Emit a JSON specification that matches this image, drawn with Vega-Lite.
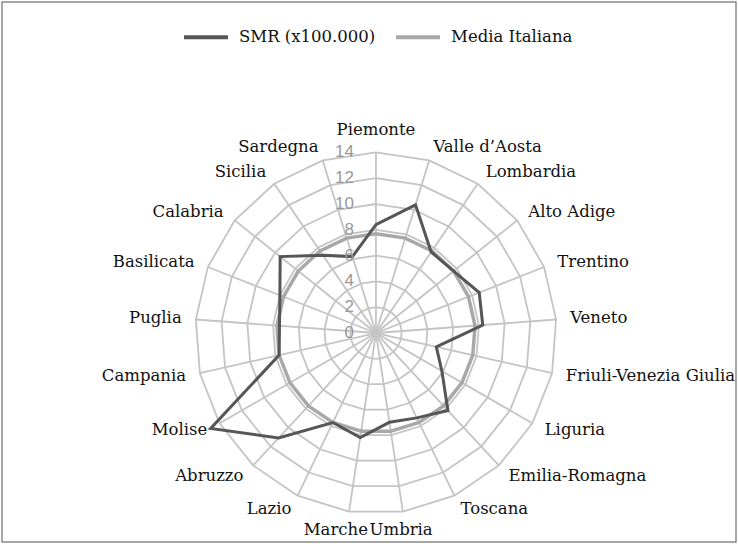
{
  "$schema": "https://vega.github.io/schema/vega-lite/v6.json",
  "width": 734,
  "height": 540,
  "padding": 2,
  "autosize": {"type": "none"},
  "background": "white",
  "config": {"view": {"stroke": "#8a8a8a", "strokeWidth": 1.5}},
  "datasets": {
    "regions": [
      {"region": "Piemonte", "k": 0, "SMR": 8.4, "Media": 7.7},
      {"region": "Valle d’Aosta", "k": 1, "SMR": 10.4, "Media": 7.7},
      {"region": "Lombardia", "k": 2, "SMR": 7.6, "Media": 7.7},
      {"region": "Alto Adige", "k": 3, "SMR": 7.7, "Media": 7.7},
      {"region": "Trentino", "k": 4, "SMR": 8.6, "Media": 7.7},
      {"region": "Veneto", "k": 5, "SMR": 8.3, "Media": 7.7},
      {"region": "Friuli-Venezia Giulia", "k": 6, "SMR": 4.8, "Media": 7.7},
      {"region": "Liguria", "k": 7, "SMR": 5.9, "Media": 7.7},
      {"region": "Emilia-Romagna", "k": 8, "SMR": 8.2, "Media": 7.7},
      {"region": "Toscana", "k": 9, "SMR": 7.3, "Media": 7.7},
      {"region": "Umbria", "k": 10, "SMR": 7.0, "Media": 7.7},
      {"region": "Marche", "k": 11, "SMR": 8.2, "Media": 7.7},
      {"region": "Lazio", "k": 12, "SMR": 7.7, "Media": 7.7},
      {"region": "Abruzzo", "k": 13, "SMR": 11.1, "Media": 7.7},
      {"region": "Molise", "k": 14, "SMR": 14.8, "Media": 7.7},
      {"region": "Campania", "k": 15, "SMR": 7.7, "Media": 7.7},
      {"region": "Puglia", "k": 16, "SMR": 7.5, "Media": 7.7},
      {"region": "Basilicata", "k": 17, "SMR": 8.0, "Media": 7.7},
      {"region": "Calabria", "k": 18, "SMR": 9.5, "Media": 7.7},
      {"region": "Sicilia", "k": 19, "SMR": 7.3, "Media": 7.7},
      {"region": "Sardegna", "k": 20, "SMR": 6.2, "Media": 7.7}
    ],
    "rings": [
      {"ring": 0, "ks": [0,1,2,3,4,5,6,7,8,9,10,11,12,13,14,15,16,17,18,19,20]},
      {"ring": 2, "ks": [0,1,2,3,4,5,6,7,8,9,10,11,12,13,14,15,16,17,18,19,20]},
      {"ring": 4, "ks": [0,1,2,3,4,5,6,7,8,9,10,11,12,13,14,15,16,17,18,19,20]},
      {"ring": 6, "ks": [0,1,2,3,4,5,6,7,8,9,10,11,12,13,14,15,16,17,18,19,20]},
      {"ring": 8, "ks": [0,1,2,3,4,5,6,7,8,9,10,11,12,13,14,15,16,17,18,19,20]},
      {"ring": 10, "ks": [0,1,2,3,4,5,6,7,8,9,10,11,12,13,14,15,16,17,18,19,20]},
      {"ring": 12, "ks": [0,1,2,3,4,5,6,7,8,9,10,11,12,13,14,15,16,17,18,19,20]},
      {"ring": 14, "ks": [0,1,2,3,4,5,6,7,8,9,10,11,12,13,14,15,16,17,18,19,20]}
    ]
  },
  "layer": [
    {
      "data": {"name": "rings"},
      "transform": [
        {"filter": "datum.ring > 0"},
        {"flatten": ["ks"], "as": ["k"]},
        {"calculate": "2*PI*datum.k/21", "as": "a"},
        {"calculate": "datum.ring*sin(datum.a)", "as": "x"},
        {"calculate": "datum.ring*cos(datum.a)", "as": "y"}
      ],
      "mark": {"type": "line", "interpolate": "linear-closed", "color": "#c4c4c4", "strokeWidth": 1.8},
      "encoding": {
        "x": {"field": "x", "type": "quantitative", "scale": {"domain": [-28.99, 27.91], "nice": false, "zero": false}, "axis": null},
        "y": {"field": "y", "type": "quantitative", "scale": {"domain": [-16.2, 25.66], "nice": false, "zero": false}, "axis": null},
        "detail": {"field": "ring", "type": "nominal"},
        "order": {"field": "k", "type": "quantitative"}
      }
    },
    {
      "data": {"name": "regions"},
      "transform": [
        {"calculate": "2*PI*datum.k/21", "as": "a"},
        {"calculate": "14*sin(datum.a)", "as": "sx"},
        {"calculate": "14*cos(datum.a)", "as": "sy"}
      ],
      "mark": {"type": "rule", "color": "#c4c4c4", "strokeWidth": 1.8},
      "encoding": {
        "x": {"field": "sx", "type": "quantitative", "scale": {"domain": [-28.99, 27.91], "nice": false, "zero": false}, "axis": null},
        "y": {"field": "sy", "type": "quantitative", "scale": {"domain": [-16.2, 25.66], "nice": false, "zero": false}, "axis": null},
        "x2": {"datum": 0},
        "y2": {"datum": 0}
      }
    },
    {
      "data": {"name": "regions"},
      "transform": [
        {"calculate": "2*PI*datum.k/21", "as": "a"},
        {"calculate": "datum.Media*sin(datum.a)", "as": "x"},
        {"calculate": "datum.Media*cos(datum.a)", "as": "y"},
        {"calculate": "'Media Italiana'", "as": "series"}
      ],
      "mark": {"type": "line", "interpolate": "linear-closed", "strokeWidth": 3.5},
      "encoding": {
        "x": {"field": "x", "type": "quantitative", "scale": {"domain": [-28.99, 27.91], "nice": false, "zero": false}, "axis": null},
        "y": {"field": "y", "type": "quantitative", "scale": {"domain": [-16.2, 25.66], "nice": false, "zero": false}, "axis": null},
        "order": {"field": "k", "type": "quantitative"},
        "color": {
          "field": "series",
          "type": "nominal",
          "scale": {"domain": ["SMR (x100.000)", "Media Italiana"], "range": ["#565656", "#a8a8a8"]},
          "legend": {"orient": "none", "legendX": 180, "legendY": 11, "direction": "horizontal", "title": null, "symbolType": "stroke", "symbolSize": 1936, "symbolStrokeWidth": 4, "labelFont": "DejaVu Serif", "labelFontSize": 16.5, "labelColor": "#111111", "columnPadding": 12, "labelOffset": 9}
        }
      }
    },
    {
      "data": {"name": "regions"},
      "transform": [
        {"calculate": "2*PI*datum.k/21", "as": "a"},
        {"calculate": "datum.SMR*sin(datum.a)", "as": "x"},
        {"calculate": "datum.SMR*cos(datum.a)", "as": "y"},
        {"calculate": "'SMR (x100.000)'", "as": "series"}
      ],
      "mark": {"type": "line", "interpolate": "linear-closed", "strokeWidth": 3},
      "encoding": {
        "x": {"field": "x", "type": "quantitative", "scale": {"domain": [-28.99, 27.91], "nice": false, "zero": false}, "axis": null},
        "y": {"field": "y", "type": "quantitative", "scale": {"domain": [-16.2, 25.66], "nice": false, "zero": false}, "axis": null},
        "order": {"field": "k", "type": "quantitative"},
        "color": {
          "field": "series",
          "type": "nominal",
          "scale": {"domain": ["SMR (x100.000)", "Media Italiana"], "range": ["#565656", "#a8a8a8"]},
          "legend": {"orient": "none", "legendX": 180, "legendY": 11, "direction": "horizontal", "title": null, "symbolType": "stroke", "symbolSize": 1936, "symbolStrokeWidth": 4, "labelFont": "DejaVu Serif", "labelFontSize": 16.5, "labelColor": "#111111", "columnPadding": 12, "labelOffset": 9}
        }
      }
    },
    {
      "data": {"name": "rings"},
      "mark": {"type": "text", "align": "right", "baseline": "middle", "dx": -22, "font": "Liberation Sans", "fontSize": 17, "color": "#999999"},
      "encoding": {
        "x": {"datum": 0, "type": "quantitative", "scale": {"domain": [-28.99, 27.91], "nice": false, "zero": false}, "axis": null},
        "y": {"field": "ring", "type": "quantitative", "scale": {"domain": [-16.2, 25.66], "nice": false, "zero": false}, "axis": null},
        "text": {"field": "ring", "type": "quantitative"}
      }
    },
    {
      "data": {"name": "regions"},
      "transform": [
        {"calculate": "2*PI*datum.k/21", "as": "a"},
        {"calculate": "sin(datum.a)", "as": "s"},
        {"calculate": "abs(datum.s) < 0.2 ? 15.7 : 15.1", "as": "lr"},
        {"calculate": "datum.lr*datum.s", "as": "lx"},
        {"calculate": "datum.lr*cos(datum.a)", "as": "ly"},
        {"filter": "datum.s > 0.2"}
      ],
      "mark": {"type": "text", "align": "left", "baseline": "middle", "font": "DejaVu Serif", "fontSize": 16.5, "color": "#111111"},
      "encoding": {
        "x": {"field": "lx", "type": "quantitative", "scale": {"domain": [-28.99, 27.91], "nice": false, "zero": false}, "axis": null},
        "y": {"field": "ly", "type": "quantitative", "scale": {"domain": [-16.2, 25.66], "nice": false, "zero": false}, "axis": null},
        "text": {"field": "region", "type": "nominal"}
      }
    },
    {
      "data": {"name": "regions"},
      "transform": [
        {"calculate": "2*PI*datum.k/21", "as": "a"},
        {"calculate": "sin(datum.a)", "as": "s"},
        {"calculate": "abs(datum.s) < 0.2 ? 15.7 : 15.1", "as": "lr"},
        {"calculate": "datum.lr*datum.s", "as": "lx"},
        {"calculate": "datum.lr*cos(datum.a)", "as": "ly"},
        {"filter": "datum.s < -0.2"}
      ],
      "mark": {"type": "text", "align": "right", "baseline": "middle", "font": "DejaVu Serif", "fontSize": 16.5, "color": "#111111"},
      "encoding": {
        "x": {"field": "lx", "type": "quantitative", "scale": {"domain": [-28.99, 27.91], "nice": false, "zero": false}, "axis": null},
        "y": {"field": "ly", "type": "quantitative", "scale": {"domain": [-16.2, 25.66], "nice": false, "zero": false}, "axis": null},
        "text": {"field": "region", "type": "nominal"}
      }
    },
    {
      "data": {"name": "regions"},
      "transform": [
        {"calculate": "2*PI*datum.k/21", "as": "a"},
        {"calculate": "sin(datum.a)", "as": "s"},
        {"calculate": "15.7*datum.s", "as": "lx"},
        {"calculate": "15.7*cos(datum.a)", "as": "ly"},
        {"filter": "abs(datum.s) <= 0.2 && cos(datum.a) > 0"}
      ],
      "mark": {"type": "text", "align": "center", "baseline": "middle", "font": "DejaVu Serif", "fontSize": 16.5, "color": "#111111"},
      "encoding": {
        "x": {"field": "lx", "type": "quantitative", "scale": {"domain": [-28.99, 27.91], "nice": false, "zero": false}, "axis": null},
        "y": {"field": "ly", "type": "quantitative", "scale": {"domain": [-16.2, 25.66], "nice": false, "zero": false}, "axis": null},
        "text": {"field": "region", "type": "nominal"}
      }
    },
    {
      "data": {"name": "regions"},
      "transform": [
        {"calculate": "2*PI*datum.k/21", "as": "a"},
        {"calculate": "sin(datum.a)", "as": "s"},
        {"calculate": "15.7*datum.s", "as": "lx"},
        {"calculate": "15.7*cos(datum.a)", "as": "ly"},
        {"filter": "datum.s > 0 && datum.s <= 0.2 && cos(datum.a) < 0"}
      ],
      "mark": {"type": "text", "align": "center", "baseline": "middle", "dx": -5, "dy": -3, "font": "DejaVu Serif", "fontSize": 16.5, "color": "#111111"},
      "encoding": {
        "x": {"field": "lx", "type": "quantitative", "scale": {"domain": [-28.99, 27.91], "nice": false, "zero": false}, "axis": null},
        "y": {"field": "ly", "type": "quantitative", "scale": {"domain": [-16.2, 25.66], "nice": false, "zero": false}, "axis": null},
        "text": {"field": "region", "type": "nominal"}
      }
    },
    {
      "data": {"name": "regions"},
      "transform": [
        {"calculate": "2*PI*datum.k/21", "as": "a"},
        {"calculate": "sin(datum.a)", "as": "s"},
        {"calculate": "15.7*datum.s", "as": "lx"},
        {"calculate": "15.7*cos(datum.a)", "as": "ly"},
        {"filter": "datum.s < 0 && datum.s >= -0.2 && cos(datum.a) < 0"}
      ],
      "mark": {"type": "text", "align": "center", "baseline": "middle", "dx": -10, "dy": -3, "font": "DejaVu Serif", "fontSize": 16.5, "color": "#111111"},
      "encoding": {
        "x": {"field": "lx", "type": "quantitative", "scale": {"domain": [-28.99, 27.91], "nice": false, "zero": false}, "axis": null},
        "y": {"field": "ly", "type": "quantitative", "scale": {"domain": [-16.2, 25.66], "nice": false, "zero": false}, "axis": null},
        "text": {"field": "region", "type": "nominal"}
      }
    }
  ]
}
